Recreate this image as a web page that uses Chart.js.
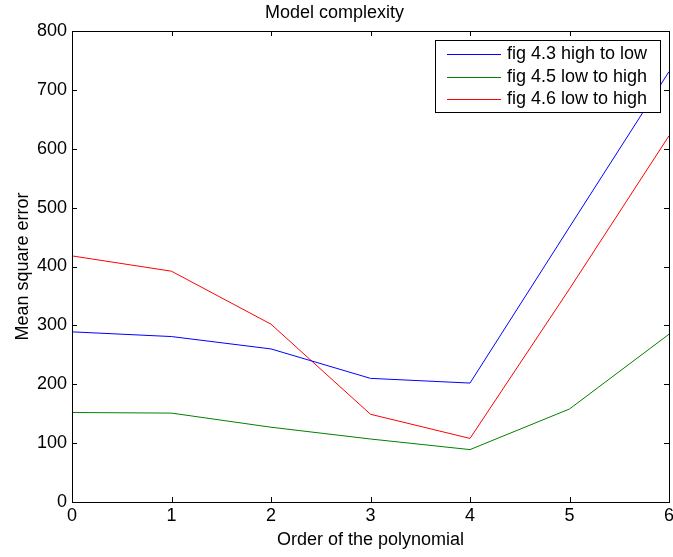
<!DOCTYPE html>
<html>
<head>
<meta charset="utf-8">
<script src="https://cdn.jsdelivr.net/npm/chart.js@4"></script>
<style>
  body { margin: 0; background: #fff; }
  #wrap { width: 673px; height: 557px; }
</style>
</head>
<body>
<div id="wrap"><canvas id="complexityChart" width="673" height="557"></canvas></div>
<script>
var orders = [0, 1, 2, 3, 4, 5, 6];
var fig43 = [289, 281, 260, 210, 202, 467, 731];
var fig45 = [152, 151, 127, 107, 89, 158, 285];
var fig46 = [418, 392, 302, 149, 108, 362, 622];
var seriesNames = ["fig 4.3 high to low", "fig 4.5 low to high", "fig 4.6 low to high"];
var seriesColors = ["#0000ff", "#008000", "#ff0000"];
var yTicks = [0, 100, 200, 300, 400, 500, 600, 700, 800];

var FONT = "'Liberation Sans', Arial, Helvetica, sans-serif";

function toPoints(values) {
    return orders.map((o, i) => ({ x: o, y: values[i] }));
}

// box round the plot with ticks pointing inwards, like matlab
var boxPlugin = {
    id: 'boxPlugin',
    afterDatasetsDraw(chart) {
        const ctx = chart.ctx;
        const a = chart.chartArea;
        const xs = chart.scales.x, ys = chart.scales.y;
        const tl = 5;
        ctx.save();
        ctx.strokeStyle = '#000';
        ctx.lineWidth = 1;
        ctx.beginPath();
        orders.forEach(v => {
            const px = Math.round(xs.getPixelForValue(v)) + 0.5;
            ctx.moveTo(px, a.bottom); ctx.lineTo(px, a.bottom - tl);
            ctx.moveTo(px, a.top); ctx.lineTo(px, a.top + tl);
        });
        yTicks.forEach(v => {
            const py = Math.round(ys.getPixelForValue(v)) + 0.5;
            ctx.moveTo(a.left, py); ctx.lineTo(a.left + tl, py);
            ctx.moveTo(a.right, py); ctx.lineTo(a.right - tl, py);
        });
        ctx.stroke();
        ctx.strokeRect(Math.round(a.left) + 0.5, Math.round(a.top) + 0.5,
            Math.round(a.right - a.left), Math.round(a.bottom - a.top));

        // legend box in the upper right corner
        const lx = 435.5, ly = 40.5, lw = 225, lh = 72;
        ctx.fillStyle = '#fff';
        ctx.fillRect(lx, ly, lw, lh);
        ctx.strokeStyle = '#000';
        ctx.strokeRect(lx, ly, lw, lh);
        ctx.font = '18px ' + FONT;
        ctx.textBaseline = 'middle';
        ctx.textAlign = 'left';
        for (let i = 0; i < seriesNames.length; i++) {
            const ry = Math.round(54 + i * 22.7);
            ctx.fillStyle = seriesColors[i];
            ctx.fillRect(447, ry, 54, 1);
            ctx.fillStyle = '#000';
            ctx.fillText(seriesNames[i], 507, ry + 0.5);
        }
        ctx.restore();
    }
};

new Chart("complexityChart", {
    type: "line",
    data: {
        datasets: [
            { label: seriesNames[0], data: toPoints(fig43), borderColor: seriesColors[0] },
            { label: seriesNames[1], data: toPoints(fig45), borderColor: seriesColors[1] },
            { label: seriesNames[2], data: toPoints(fig46), borderColor: seriesColors[2] }
        ]
    },
    options: {
        responsive: false,
        animation: false,
        layout: { padding: { left: 0, right: 4, top: 0, bottom: 0 } },
        elements: {
            line: { borderWidth: 1, tension: 0 },
            point: { radius: 0 }
        },
        plugins: {
            legend: { display: false },
            tooltip: { enabled: false },
            title: {
                display: true,
                text: "Model complexity",
                color: '#000',
                font: { family: FONT, size: 18, weight: 'normal' },
                padding: { top: 2, bottom: 7.4 }
            }
        },
        scales: {
            x: {
                type: 'linear',
                min: 0,
                max: 6,
                grid: { display: false, drawTicks: false },
                border: { display: false },
                ticks: {
                    stepSize: 1,
                    padding: 3,
                    color: '#000',
                    font: { family: FONT, size: 18 }
                },
                title: {
                    display: true,
                    text: "Order of the polynomial",
                    color: '#000',
                    font: { family: FONT, size: 18 },
                    padding: { top: 0, bottom: 5.7 }
                },
                afterFit(scale) {
                    scale.height = 55;
                    scale.paddingLeft = 0;
                    scale.paddingRight = 0;
                }
            },
            y: {
                min: 0,
                max: 800,
                grid: { display: false, drawTicks: false },
                border: { display: false },
                ticks: {
                    stepSize: 100,
                    padding: 5,
                    color: '#000',
                    font: { family: FONT, size: 18 }
                },
                title: {
                    display: true,
                    text: "Mean square error",
                    color: '#000',
                    font: { family: FONT, size: 18 },
                    padding: { top: 12.5, bottom: 0 }
                },
                afterFit(scale) {
                    scale.width = 72;
                    scale.paddingTop = 0;
                    scale.paddingBottom = 0;
                }
            }
        }
    },
    plugins: [boxPlugin]
});
</script>
</body>
</html>
